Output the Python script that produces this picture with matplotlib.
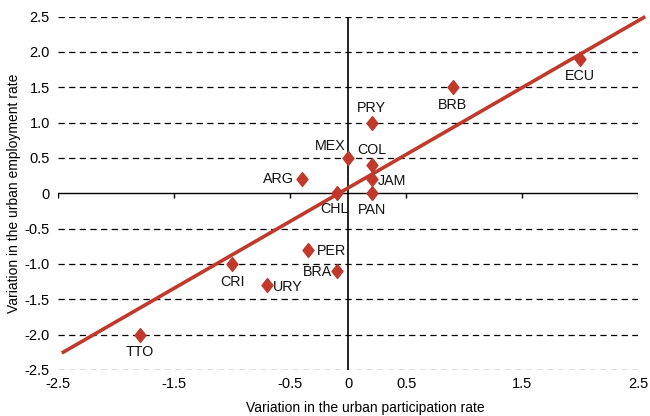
import matplotlib
matplotlib.use("Agg")
import matplotlib.pyplot as plt
import numpy as np

plt.rcParams['font.family'] = ['Liberation Sans', 'DejaVu Sans']

# country points: participation rate change (x), employment rate change (y)
countries = ['ECU', 'BRB', 'PRY', 'MEX', 'COL', 'JAM', 'PAN', 'CHL',
             'ARG', 'PER', 'BRA', 'CRI', 'URY', 'TTO']
participation = [2.0, 0.9, 0.2, 0.0, 0.2, 0.2, 0.2, -0.1,
                 -0.4, -0.35, -0.1, -1.0, -0.7, -1.8]
employment = [1.9, 1.5, 1.0, 0.5, 0.4, 0.2, 0.0, 0.0,
              0.2, -0.8, -1.1, -1.0, -1.3, -2.0]

# trend line endpoints
trend_x = [-2.47, 2.56]
trend_y = [-2.26, 2.50]

x_ticks = [-2.5, -1.5, -0.5, 0, 0.5, 1.5, 2.5]
x_tick_labels = ['-2.5', '-1.5', '-0.5', '0', '0.5', '1.5', '2.5']
y_ticks = [2.5, 2.0, 1.5, 1.0, 0.5, 0, -0.5, -1.0, -1.5, -2.0, -2.5]
y_tick_labels = ['2.5', '2.0', '1.5', '1.0', '0.5', '0', '-0.5', '-1.0',
                 '-1.5', '-2.0', '-2.5']
axis_ticks = [-2.5, -1.5, -0.5, 0.5, 1.5, 2.5]

# label placement: (dx, dy) in pixels, horizontal alignment
label_pos = {
    'ECU': (0, -17, 'center'), 'BRB': (0, -18, 'center'),
    'PRY': (0, 15, 'center'), 'MEX': (-18, 12, 'center'),
    'COL': (0, 15, 'center'), 'JAM': (6, -2, 'left'),
    'PAN': (0, -17, 'center'), 'CHL': (-2, -16, 'center'),
    'ARG': (-8, 0, 'right'), 'PER': (9, -1, 'left'),
    'BRA': (-5, -1, 'right'), 'CRI': (0, -18, 'center'),
    'URY': (6, -2, 'left'), 'TTO': (0, -17, 'center'),
}

red = '#C0392B'

fig = plt.figure(figsize=(6.5, 4.16), dpi=100)
ax = fig.add_axes([0.0897, 0.1106, 0.8923, 0.8494])
ax.set_xlim(-2.5, 2.5)
ax.set_ylim(-2.5, 2.5)

for s in ax.spines.values():
    s.set_visible(False)

# dashed grid lines
grid_y = [v for v in y_ticks if v != 0]
ax.hlines(grid_y, -2.5, 2.5, colors='black', linestyles=(0, (5, 3.5)),
          linewidth=0.9, zorder=1)
# axes through the origin
ax.axhline(0, color='black', linewidth=1.0, zorder=2)
ax.axvline(0, color='black', linewidth=1.2, zorder=2)
ax.vlines(axis_ticks, -0.06, 0, colors='black', linewidth=1.0, zorder=2)

ax.plot(trend_x, trend_y, color=red, linewidth=2.6, zorder=3,
        solid_capstyle='butt', clip_on=False)

diamond = [(0, 1), (0.79, 0), (0, -1), (-0.79, 0), (0, 1)]
ax.plot(participation, employment, linestyle='none', marker=diamond,
        markersize=10, color=red, zorder=4)

for name, x, y in zip(countries, participation, employment):
    dx, dy, ha = label_pos[name]
    ax.annotate(name, (x, y), xytext=(dx, dy), textcoords='offset pixels',
                ha=ha, va='center', fontsize=10.3, color='#111111', zorder=5)

ax.set_xticks(x_ticks)
ax.set_xticklabels(x_tick_labels)
ax.set_yticks(y_ticks)
ax.set_yticklabels(y_tick_labels)
ax.tick_params(axis='x', length=0, pad=5, labelsize=10.5)
ax.tick_params(axis='y', length=0, pad=6, labelsize=10.5)

ax.set_xlabel('Variation in the urban participation rate', fontsize=10,
              labelpad=7, x=0.529)
ax.set_ylabel('Variation in the urban employment rate', fontsize=10,
              labelpad=3)

fig.savefig('out.png', dpi=100)
